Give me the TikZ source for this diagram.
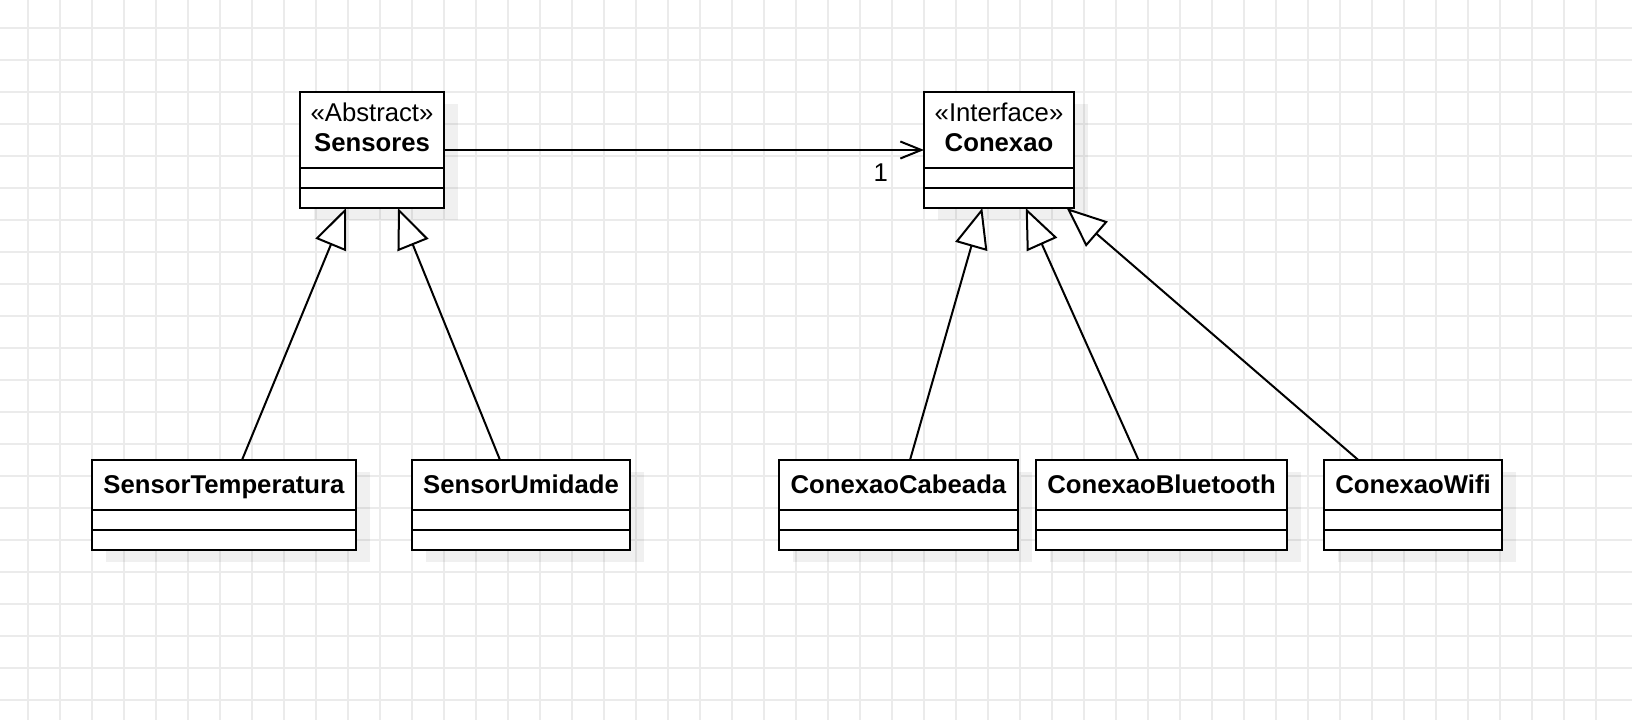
\documentclass[tikz,border=0pt]{standalone}
\usepackage{fontspec}
\setmainfont{Liberation Sans}
\usetikzlibrary{positioning,arrows.meta,backgrounds}

\definecolor{gridgray}{RGB}{235,235,235}

\begin{document}
\begin{tikzpicture}[x=1pt, y=-1pt, node distance=0pt,
    every node/.style={font=\fontsize{25.7}{30}\selectfont},
    classhead/.style={draw, line width=2pt, fill=white, outer sep=0pt, inner sep=2pt, align=center},
    stereo/.style={classhead, minimum height=76pt, text depth=5.4pt},
    plain/.style={classhead, minimum height=50pt, text height=20pt, text depth=3.4pt},
    classbody/.style={draw, line width=2pt, fill=white, outer sep=0pt, inner sep=0pt,
                      minimum height=20pt, minimum width=#1},
    inherit/.style={line width=2pt, -{Triangle[length=40pt, width=33pt, fill=white]}},
    assoc/.style={line width=2pt, -{Straight Barb[length=21pt, width=17pt]}},
    dropshadow/.style={fill=black, fill opacity=0.06}]
      \useasboundingbox (0,0) rectangle (1632,720);

      % top classes
      \node (sens)   [stereo, minimum width=144pt] at (372,130)
                     {«Abstract»\\\textbf{Sensores}};
      \node (sens-a) [classbody=144pt, below=of sens]   {};
      \node (sens-m) [classbody=144pt, below=of sens-a] {};

      \node (conx)   [stereo, minimum width=150pt] at (999,130)
                     {«Interface»\\\textbf{Conexao}};
      \node (conx-a) [classbody=150pt, below=of conx]   {};
      \node (conx-m) [classbody=150pt, below=of conx-a] {};

      % sensors
      \node (temp)   [plain, minimum width=264pt] at (224,485)
                     {\textbf{SensorTemperatura}};
      \node (temp-a) [classbody=264pt, below=of temp]   {};
      \node (temp-m) [classbody=264pt, below=of temp-a] {};

      \node (umid)   [plain, minimum width=218pt] at (521,485)
                     {\textbf{SensorUmidade}};
      \node (umid-a) [classbody=218pt, below=of umid]   {};
      \node (umid-m) [classbody=218pt, below=of umid-a] {};

      % connections
      \node (cab)    [plain, minimum width=239pt] at (898.5,485)
                     {\textbf{ConexaoCabeada}};
      \node (cab-a)  [classbody=239pt, below=of cab]    {};
      \node (cab-m)  [classbody=239pt, below=of cab-a]  {};

      \node (blue)   [plain, minimum width=251pt] at (1161.5,485)
                     {\textbf{ConexaoBluetooth}};
      \node (blue-a) [classbody=251pt, below=of blue]   {};
      \node (blue-m) [classbody=251pt, below=of blue-a] {};

      \node (wifi)   [plain, minimum width=178pt] at (1413,485)
                     {\textbf{ConexaoWifi}};
      \node (wifi-a) [classbody=178pt, below=of wifi]   {};
      \node (wifi-m) [classbody=178pt, below=of wifi-a] {};

      \path[assoc]
        ([yshift=-20pt]sens.east) edge node [pos=0.91, below=13pt, inner sep=0pt] {1}
                                  ([yshift=-20pt]conx.west);

      \path[inherit]
        ([xshift=18pt]temp.north)   edge ([xshift=-26pt]sens-m.south)
        ([xshift=-21pt]umid.north)  edge ([xshift=26pt]sens-m.south)
        ([xshift=11.5pt]cab.north)  edge ([xshift=-16.7pt]conx-m.south)
        ([xshift=-23pt]blue.north)  edge ([xshift=26.7pt]conx-m.south)
        ([xshift=-54.7pt]wifi.north) edge ([xshift=67.7pt]conx-m.south);

      \begin{scope}[on background layer]
        \foreach \gx in {28,60,...,1620}
          \draw[gridgray, line width=1.5pt] (\gx,0) -- (\gx,720);
        \foreach \gy in {28,60,...,716}
          \draw[gridgray, line width=1.5pt] (0,\gy) -- (1632,\gy);
        \foreach \c in {sens,conx,temp,umid,cab,blue,wifi}
          \fill[dropshadow] ([shift={(14,12)}]\c.north west) rectangle ([shift={(14,12)}]\c-m.south east);
      \end{scope}
\end{tikzpicture}
\end{document}
